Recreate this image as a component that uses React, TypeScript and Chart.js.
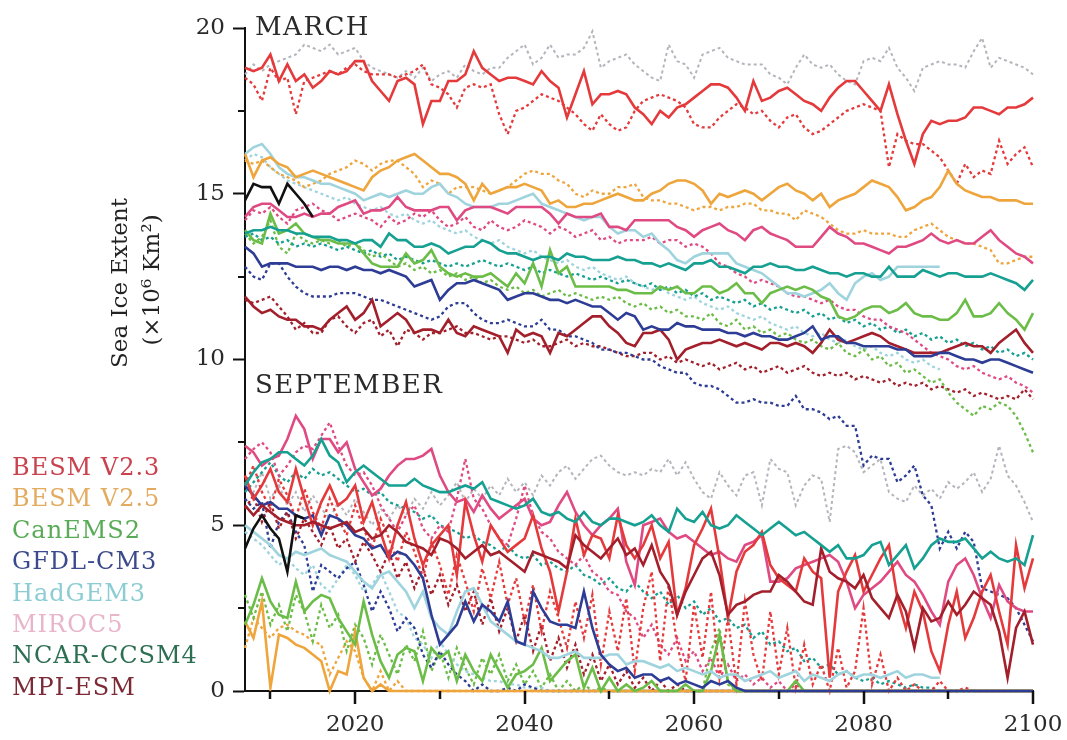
import React, { useEffect, useRef } from 'react';
import { Chart, registerables } from 'chart.js';
Chart.register(...registerables);

// ---------- data ----------
const years = Array.from({ length: 94 }, (_, i) => 2007 + i); // 2007..2100
const xTickAll = [2010, 2020, 2030, 2040, 2050, 2060, 2070, 2080, 2090, 2100];
const xTickMajor = [2020, 2040, 2060, 2080, 2100];
const yTickMinor = [2.5, 7.5, 12.5, 17.5];
const modelNames = ['BESM V2.3', 'BESM V2.5', 'CanEMS2', 'GFDL-CM3', 'HadGEM3', 'MIROC5', 'NCAR-CCSM4', 'MPI-ESM'];

// March
const marObs = [14.8, 15.3, 15.2, 15.2, 14.7, 15.3, 15.0, 14.7, 14.3];
const marBesm23Solid = [18.8,18.7,18.8,19.2,18.4,18.9,18.4,18.6,18.2,18.4,
18.7,18.6,18.7,19.0,19.0,18.4,18.1,17.8,18.4,18.5,
18.3,17.1,17.8,17.8,18.4,18.4,18.6,19.3,18.8,18.6,
18.4,18.5,18.5,18.4,18.3,18.7,18.4,18.2,17.3,18.0,
18.7,17.7,18.0,18.0,18.1,18.0,17.6,17.4,17.1,17.5,
17.3,17.6,17.7,17.9,18.1,18.3,18.3,18.2,17.9,17.5,
18.4,17.8,17.9,18.1,18.2,18.0,17.8,17.7,17.5,17.9,
18.2,18.4,18.4,18.1,17.8,17.5,18.3,17.4,16.6,15.9,
16.8,17.2,17.1,17.2,17.2,17.3,17.6,17.6,17.5,17.4,
17.6,17.6,17.7,17.9];
const marBesm23Dot = [18.5,18.3,17.8,18.8,18.4,18.5,17.4,18.4,18.5,18.6,
18.7,18.6,18.8,18.9,18.7,18.6,18.6,18.6,18.5,18.6,
18.7,18.9,18.3,18.2,18.0,17.6,18.2,18.3,18.2,18.3,
17.4,16.8,17.5,17.6,17.8,18.0,17.9,17.8,17.6,17.4,
17.1,16.9,17.4,17.1,16.9,17.0,17.5,17.8,17.9,18.0,
17.9,17.8,17.6,17.1,17.0,17.0,17.3,17.5,17.7,17.6,
17.4,17.5,17.2,17.0,17.3,17.4,17.0,16.8,16.9,17.1,
17.3,17.5,17.6,17.7,17.6,17.5,15.8,16.8,16.6,16.5,
16.5,16.3,16.1,15.7,15.3,15.9,15.5,15.7,15.6,16.6,
15.9,16.2,16.4,15.8];
const marGreyDot = [18.6,18.9,18.7,18.9,19.0,19.1,19.2,19.5,19.4,19.3,
19.5,19.2,19.3,19.4,19.0,18.8,18.7,18.6,18.5,18.7,
18.5,18.8,18.4,18.6,18.7,18.5,18.9,18.7,18.6,18.8,
18.8,19.1,19.3,19.5,18.9,19.1,19.5,19.1,19.2,19.2,
19.4,19.9,18.8,19.0,19.1,19.2,18.9,18.7,18.5,18.4,
19.5,19.0,18.9,18.5,19.2,19.3,19.4,19.1,19.0,18.9,
18.9,18.9,18.6,18.5,18.3,18.8,19.2,18.9,18.8,18.9,
18.6,18.4,18.3,19.0,19.1,19.0,19.4,18.8,18.5,18.1,
18.8,18.9,19.0,18.9,18.9,18.8,19.3,19.7,18.8,19.1,
19.0,18.9,18.8,18.6];
const marBesm25Solid = [16.2,15.5,16.0,16.1,15.9,15.8,15.5,15.6,15.7,15.6,
15.5,15.4,15.3,15.2,15.1,15.5,15.7,15.8,16.0,16.1,
16.2,16.0,15.8,15.6,15.6,15.5,15.3,14.8,15.3,15.0,
15.1,15.2,15.2,15.3,15.2,15.1,14.7,14.8,14.6,14.6,
14.7,14.7,14.8,14.9,15.0,14.9,14.8,14.8,15.0,15.1,
15.3,15.4,15.4,15.3,15.1,14.7,15.0,14.9,15.0,15.1,
15.0,14.8,15.0,15.2,15.3,15.1,15.0,14.8,15.0,14.6,
14.8,14.9,15.0,15.2,15.4,15.3,15.2,14.9,14.5,14.6,
14.8,14.9,15.2,15.7,15.3,15.1,15.0,14.9,14.9,14.8,
14.8,14.8,14.7,14.7];
const marBesm25Dot = [16.0,15.9,16.0,15.8,15.6,15.5,15.4,15.2,15.3,15.4,
15.6,15.7,15.8,16.0,15.9,15.7,15.9,16.0,16.0,15.8,
15.6,15.2,15.4,15.3,15.0,15.2,15.2,15.2,15.1,15.0,
15.1,15.2,15.4,15.6,15.7,15.6,15.6,15.4,15.3,15.0,
14.9,15.1,15.0,15.0,15.2,15.2,15.3,14.9,14.8,14.8,
14.7,14.7,14.6,14.5,14.6,14.6,14.5,14.6,14.6,14.7,
14.7,14.5,14.5,14.4,14.4,14.2,14.5,14.4,14.3,14.1,
13.9,13.8,13.8,13.9,13.8,13.8,13.8,13.7,13.7,13.9,
14.0,14.1,13.9,13.7,13.6,13.5,13.5,13.4,13.3,12.9,
12.9,13.0,13.1,13.1];
const marCanSolid = [13.9,13.6,13.5,14.4,13.8,13.9,14.1,13.8,13.7,13.6,
13.6,13.5,13.5,13.5,13.2,12.9,12.8,12.8,12.8,13.2,
12.9,13.0,13.3,12.8,12.6,12.5,12.6,12.5,12.5,12.6,
12.4,12.2,12.6,12.3,12.9,12.2,13.3,12.6,12.8,12.2,
12.2,12.2,12.2,12.2,12.1,12.1,12.0,12.0,12.0,12.2,
12.1,12.2,12.0,12.0,12.2,12.2,12.0,12.1,12.3,12.0,
12.0,11.7,12.0,12.1,12.2,12.1,12.2,12.1,11.9,11.8,
11.3,11.2,11.3,11.5,11.6,11.6,11.4,11.5,11.7,11.4,
11.3,11.3,11.2,11.2,11.4,11.8,11.3,11.3,11.4,11.7,
11.4,11.2,10.9,11.4];
const marCanDot = [13.8,13.5,13.7,14.2,13.4,13.2,13.8,13.6,13.5,13.6,
13.5,13.6,13.4,13.5,13.3,13.1,13.2,13.0,12.8,12.9,
12.7,12.8,12.6,12.7,12.5,12.6,12.4,12.5,12.3,12.4,
12.2,12.1,12.2,12.0,12.1,11.9,12.0,12.1,11.9,12.0,
11.9,11.8,11.9,11.8,11.9,11.7,11.6,11.7,11.5,11.6,
11.4,11.5,11.3,11.3,11.2,11.4,11.1,11.0,11.2,10.9,
11.0,10.8,10.9,10.7,10.8,10.6,10.5,10.6,10.4,10.3,
10.5,10.2,10.1,10.3,10.0,10.1,9.8,9.9,9.6,9.7,
9.5,9.3,9.4,9.0,8.7,8.5,8.3,8.6,8.5,8.7,
8.6,8.3,7.8,7.2];
const marGfdlSolid = [13.4,13.2,12.8,12.9,12.9,12.9,12.8,12.8,12.8,12.7,
12.8,12.8,12.7,12.8,12.7,12.7,12.6,12.7,12.6,12.5,
12.2,12.3,12.4,11.8,12.1,12.3,12.3,12.4,12.3,12.2,
12.1,11.8,11.9,12.0,12.0,11.9,11.8,11.8,11.7,11.8,
11.7,11.6,11.6,11.4,11.2,11.4,11.3,10.9,11.0,10.9,
10.9,11.1,11.0,11.0,10.9,10.9,10.9,10.8,10.8,10.7,
10.8,10.7,10.7,10.6,10.6,10.7,10.8,11.0,10.6,10.7,
10.7,10.5,10.5,10.4,10.4,10.4,10.4,10.3,10.3,10.1,
10.1,10.1,10.2,10.2,10.1,10.0,10.0,9.9,10.0,10.0,
9.9,9.8,9.7,9.6];
const marGfdlDot = [12.8,12.5,12.4,12.9,12.9,12.5,12.2,12.0,11.9,11.9,
11.9,12.0,12.0,12.0,11.9,11.8,11.8,11.7,11.6,11.5,
11.4,11.3,11.2,11.3,11.6,11.7,11.7,11.4,11.2,11.1,
11.1,11.2,11.1,11.0,11.0,11.2,10.9,10.9,10.7,10.7,
10.6,10.5,10.3,10.3,10.2,10.2,10.1,10.0,10.0,9.8,
9.7,9.6,9.6,9.3,9.2,9.2,9.1,8.9,8.7,8.7,
8.8,8.7,8.7,8.6,8.6,8.9,8.5,8.5,8.4,8.2,
8.3,8.0,8.0,6.8,7.1,7.0,7.0,6.3,6.5,6.8,
5.9,5.6,4.3,4.8,4.3,4.8,4.5,3.1,3.0,2.9,
2.8,2.5,2.0,1.5];
const marHadSolid = [16.2,16.4,16.5,16.2,15.8,15.6,15.5,15.5,15.4,15.3,
15.3,15.2,15.1,15.0,14.8,14.9,15.0,14.9,15.0,15.1,
15.0,15.0,15.2,15.3,15.0,14.9,14.7,14.6,14.6,14.6,
14.7,14.7,14.8,14.9,15.0,14.7,14.6,14.5,14.4,14.3,
14.2,14.3,14.3,14.0,13.8,13.9,13.9,13.7,13.8,13.5,
13.3,13.0,12.9,13.1,13.2,13.2,13.2,13.2,12.9,12.8,
12.7,12.6,12.4,12.2,12.0,12.0,11.9,12.0,12.1,12.3,
12.0,11.8,12.3,12.5,12.6,12.4,12.5,12.8,12.8,12.8,
12.8,12.8,12.8];
const marHadDot = [16.0,16.2,16.1,15.8,15.6,15.4,15.3,15.2,15.1,15.0,
14.9,14.8,14.9,14.7,14.6,14.5,14.6,14.4,14.3,14.4,
14.2,14.1,14.2,14.0,13.9,13.8,13.9,13.7,13.6,13.5,
13.6,13.4,13.3,13.2,13.3,13.1,13.0,12.9,13.0,12.8,
12.7,12.8,12.6,12.5,12.4,12.5,12.3,12.2,12.1,12.2,
12.0,11.9,11.8,11.9,11.7,11.6,11.5,11.6,11.4,11.3,
11.2,11.3,11.1,11.0,10.9,11.0,10.8,10.7,10.8,10.6,
10.5,10.6,10.4,10.3,10.4,10.2,10.1,10.2,10.0,9.9,
10.0,9.8,9.7];
const marMirocSolid = [14.3,14.6,14.7,14.7,14.5,14.3,14.3,14.4,14.3,14.4,
14.4,14.6,14.7,14.8,14.4,14.5,14.5,14.6,14.9,14.6,
14.5,14.5,14.5,14.6,14.6,14.2,14.5,14.6,14.6,14.6,
14.5,14.4,14.6,14.6,14.6,14.6,14.4,14.1,14.4,14.3,
14.3,14.3,14.4,14.0,14.0,13.9,14.2,14.2,14.2,14.2,
14.2,14.0,13.9,13.7,13.9,14.0,14.1,13.9,13.8,13.6,
13.9,14.0,13.8,13.7,13.6,13.4,13.4,13.4,13.7,14.0,
13.8,13.7,13.5,13.5,13.4,13.3,13.2,13.4,13.4,13.5,
13.6,13.8,13.6,13.5,13.6,13.5,13.5,13.7,13.9,13.6,
13.4,13.2,13.1,12.9];
const marMirocDot = [14.2,14.5,14.4,14.6,14.3,14.1,14.5,14.6,14.7,14.5,
14.4,14.2,14.3,14.4,14.3,14.2,14.0,14.3,14.1,14.2,
14.4,14.3,14.5,14.2,14.0,14.1,14.3,14.0,13.9,14.2,
14.0,13.9,14.0,14.2,14.1,14.0,13.8,14.0,13.9,13.7,
13.8,13.9,13.6,13.7,13.5,13.6,13.6,13.6,13.7,13.5,
13.6,13.6,13.4,13.5,13.4,13.2,12.9,12.8,12.6,12.5,
12.3,12.4,12.3,12.2,12.0,11.9,11.9,11.8,11.7,11.8,
11.6,11.5,11.5,11.3,11.2,11.2,11.0,10.9,10.8,10.6,
10.4,10.2,10.1,10.0,9.8,9.7,9.8,9.6,9.5,9.4,
9.5,9.3,9.2,9.0];
const marNcarSolid = [13.8,13.9,13.9,14.0,13.9,13.9,13.8,13.8,13.7,13.7,
13.7,13.6,13.6,13.5,13.6,13.6,13.4,13.8,13.6,13.6,
13.4,13.4,13.5,13.4,13.2,13.3,13.4,13.4,13.6,13.5,
13.3,13.2,13.2,13.1,13.0,13.1,13.1,13.0,13.2,13.1,
13.1,13.0,13.0,13.0,13.1,13.0,13.0,12.9,12.9,12.8,
12.9,12.8,12.7,12.9,12.9,13.0,12.8,12.8,12.7,12.6,
12.8,12.8,12.9,12.8,12.8,12.7,12.7,12.8,12.7,12.6,
12.6,12.5,12.6,12.6,12.5,12.5,12.8,12.5,12.5,12.5,
12.7,12.6,12.5,12.6,12.6,12.5,12.5,12.5,12.6,12.5,
12.4,12.3,12.1,12.4];
const marNcarDot = [13.7,13.8,13.6,13.7,13.5,13.6,13.4,13.5,13.4,13.5,
13.4,13.3,13.4,13.3,13.2,13.3,13.1,13.2,13.0,13.1,
13.0,12.9,13.0,12.9,12.8,12.9,12.8,12.9,13.0,12.9,
12.8,12.9,12.8,12.7,12.8,12.6,12.7,12.6,12.5,12.6,
12.5,12.4,12.5,12.4,12.3,12.4,12.3,12.2,12.3,12.1,
12.2,12.0,12.1,11.9,12.0,11.8,11.9,11.8,11.7,11.8,
11.6,11.7,11.5,11.6,11.5,11.4,11.5,11.3,11.4,11.2,
11.3,11.1,11.2,11.0,11.1,10.9,11.0,10.8,10.9,10.7,
10.8,10.6,10.7,10.5,10.6,10.4,10.5,10.3,10.4,10.2,
10.3,10.1,10.2,10.0];
const marMpiSolid = [11.9,11.6,11.4,11.5,11.3,11.2,11.2,11.0,11.0,10.9,
11.2,11.4,11.6,11.2,11.4,11.8,11.0,11.2,11.4,11.2,
10.8,10.9,10.9,10.8,11.2,10.8,10.7,11.0,10.9,10.8,
10.7,10.2,10.9,10.7,10.8,10.7,10.2,10.8,10.7,10.9,
11.1,11.3,11.3,11.0,10.8,10.5,10.4,10.8,10.8,10.9,
10.6,10.0,10.3,10.4,10.5,10.5,10.6,10.5,10.4,10.5,
10.4,10.3,10.5,10.5,10.4,10.5,10.4,10.2,10.5,10.9,
10.6,10.5,10.6,10.7,10.8,10.7,10.5,10.4,10.3,10.2,
10.2,10.2,10.2,10.3,10.4,10.5,10.4,10.4,10.2,10.5,
10.7,10.9,10.5,10.2];
const marMpiDot = [11.8,11.7,11.8,11.9,11.6,11.3,10.9,11.1,10.8,10.8,
11.2,11.3,11.0,10.8,11.1,11.2,10.7,10.9,10.4,10.9,
10.8,10.6,10.8,10.8,10.9,11.0,10.8,10.8,10.7,10.6,
10.7,10.7,10.6,10.5,10.6,10.4,10.4,10.5,10.6,10.4,
10.5,10.4,10.4,10.3,10.2,10.1,10.1,10.2,10.2,10.0,
10.1,9.9,10.0,9.9,9.8,9.9,9.7,9.8,9.9,9.7,
9.8,9.6,9.7,9.8,9.6,9.7,9.8,9.6,9.5,9.6,
9.5,9.6,9.4,9.5,9.4,9.3,9.4,9.2,9.3,9.2,
9.3,9.1,9.2,9.1,9.0,9.1,8.9,9.0,8.9,8.8,
8.9,8.8,9.1,8.8];

// September
const sepObs = [4.3, 4.9, 5.3, 4.9, 4.6, 3.6, 5.3, 5.2];
const sepBesm23Solid = [6.5,5.8,6.2,6.7,6.0,5.7,6.7,5.8,5.0,5.7,
6.2,5.6,5.8,6.2,5.1,5.7,4.8,4.0,5.0,5.7,
4.6,3.8,4.4,4.7,5.0,3.5,5.7,4.7,3.9,5.0,
4.6,4.2,4.4,4.6,5.3,4.3,3.6,2.4,3.6,5.2,
4.1,4.7,4.6,4.0,5.3,4.4,4.0,4.4,5.0,4.0,
4.5,2.3,3.1,4.4,4.9,5.5,4.0,2.2,3.6,4.2,
4.4,4.8,3.8,3.4,3.2,3.0,4.0,3.6,3.4,0.4,
3.0,3.6,4.1,3.0,3.5,4.0,4.4,2.8,1.9,3.0,
2.4,1.2,0.6,2.0,3.0,1.6,2.2,3.0,3.5,2.4,
1.4,4.4,3.1,4.0];
const sepBesm23Dot = [6.2,6.8,6.0,5.5,6.4,5.9,5.2,6.1,5.4,4.9,
5.8,5.2,4.7,5.6,4.9,4.3,5.2,4.6,3.9,4.8,
4.2,3.4,4.5,3.8,2.9,4.1,3.3,2.4,3.7,2.8,
3.9,2.6,3.4,2.1,3.2,1.8,3.0,2.2,1.3,2.7,
1.6,2.9,0.8,2.4,1.2,2.8,0.6,2.5,3.6,0.9,
3.2,1.4,0.3,2.6,1.0,3.0,0.4,2.2,0.2,2.7,
1.1,0.3,2.4,0.5,1.9,0.1,1.4,0.2,0.8,0.0,
1.3,0.1,0.6,2.5,0.2,1.1,0.0,0.4,0.0,0.2,
0.0,0.0,0.3,0.0,0.0,0.1,0.0,0.0,0.0,0.0,
0.0,0.0,0.0,0.0];
const sepGreyDot = [6.3,6.0,6.6,5.8,6.2,5.6,6.0,5.4,5.9,5.5,
5.2,5.7,5.3,5.8,5.4,5.0,5.5,5.2,5.6,5.3,
5.8,5.5,6.0,5.6,5.9,6.3,5.7,6.1,5.8,6.2,
5.9,6.4,6.0,6.3,5.9,6.5,6.2,6.6,6.8,6.4,
6.7,7.0,7.1,6.8,6.6,6.5,6.6,6.5,6.7,6.6,
7.0,6.5,6.9,6.4,6.0,5.8,6.6,6.2,5.9,6.5,
6.6,5.6,7.0,6.7,6.6,5.6,6.2,6.5,6.4,5.1,
7.3,7.4,7.2,6.6,6.8,7.0,6.0,5.8,5.7,6.2,
5.9,6.1,5.8,6.3,6.1,6.3,6.6,6.0,6.4,7.4,
6.5,6.2,5.7,5.1];
const sepBesm25Solid = [2.1,1.6,2.7,0.1,1.7,1.6,1.4,1.3,1.1,0.9,
0.0,0.6,0.5,1.8,0.4,0.0,0.2,0.0,0.0,0.0,
0.0,0.0,0.0,0.0,0.0,0.0,0.0,0.0,0.0,0.0,
0.0,0.0,0.0,0.0,0.0,0.0,0.0,0.0,0.0,0.0,
0.0,0.0,0.0,0.0,0.0,0.0,0.0,0.0,0.0,0.0,
0.0,0.0,0.0,0.0,0.0,0.0,0.0,0.0,0.0,0.0,
0.0,0.0,0.0,0.0,0.0,0.0,0.0,0.0,0.0,0.0,
0.0,0.0,0.0,0.0,0.0,0.0,0.0,0.0,0.0,0.0,
0.0,0.0,0.0,0.0,0.0,0.0,0.0,0.0,0.0,0.0,
0.0,0.0,0.0,0.0];
const sepBesm25Dot = [1.3,2.2,1.9,1.6,1.9,2.0,1.8,1.7,1.5,1.4,
0.5,1.0,1.5,1.2,0.4,0.0,0.6,0.0,0.3,0.0,
0.0,0.0,0.0,0.0,0.0,0.0,0.0,0.0,0.0,0.0,
0.0,0.0,0.0,0.0,0.0,0.0,0.0,0.0,0.0,0.0,
0.0,0.0,0.0,0.0,0.0,0.0,0.0,0.0,0.0,0.0,
0.0,0.0,0.0,0.0,0.0,0.0,0.0,0.0,0.0,0.0,
0.0,0.0,0.0,0.0,0.0,0.0,0.0,0.0,0.0,0.0,
0.0,0.0,0.0,0.0,0.0,0.0,0.0,0.0,0.0,0.0,
0.0,0.0,0.0,0.0,0.0,0.0,0.0,0.0,0.0,0.0,
0.0,0.0,0.0,0.0];
const sepCanSolid = [2.0,2.6,3.4,2.7,2.3,2.2,3.3,2.4,2.7,2.9,
2.8,2.2,1.8,1.4,2.7,1.7,0.9,0.4,1.1,1.3,
1.2,0.3,1.3,1.0,1.2,0.3,1.1,0.6,0.3,1.1,
0.6,0.1,0.5,0.6,0.8,1.3,0.3,0.6,0.9,1.1,
0.1,0.7,0.0,0.4,0.0,0.2,0.0,0.1,0.3,0.0,
0.0,0.0,0.2,0.0,0.0,0.6,1.7,0.3,0.0,0.0,
0.0,0.0,0.0,0.0,0.0,0.3,0.0,0.0,0.0,0.0,
0.0,0.0,0.0,0.0,0.0,0.0,0.0,0.0,0.0,0.0,
0.0,0.0,0.0,0.0,0.0,0.0,0.0,0.0,0.0,0.0,
0.0,0.0,0.0,0.0];
const sepCanDot = [2.9,2.2,3.0,2.0,2.6,1.8,2.9,2.4,1.5,2.6,
1.9,2.3,1.2,2.0,1.6,0.8,1.7,1.1,0.5,1.4,
0.9,1.8,0.6,1.2,0.4,1.3,0.7,0.2,1.0,0.5,
1.1,0.3,0.8,0.2,0.6,0.1,0.5,0.0,0.3,0.0,
0.2,0.0,0.1,0.0,0.0,0.0,0.0,0.0,0.0,0.0,
0.0,0.0,0.0,0.0,0.0,1.2,1.9,0.2,0.0,0.0,
0.0,0.0,0.0,0.0,0.0,0.0,0.0,0.0,0.0,0.0,
0.0,0.0,0.0,0.0,0.0,0.0,0.0,0.0,0.0,0.0,
0.0,0.0,0.0,0.0,0.0,0.0,0.0,0.0,0.0,0.0,
0.0,0.0,0.0,0.0];
const sepGfdlSolid = [6.2,5.9,5.6,5.7,5.5,5.5,5.3,5.2,5.3,4.7,
5.3,5.2,5.0,4.7,4.6,4.3,4.4,4.0,4.2,4.1,
3.8,3.4,2.3,1.4,1.7,2.0,2.7,2.1,2.6,2.4,
2.1,2.7,1.5,1.4,3.0,2.5,2.1,2.0,2.0,1.9,
3.0,1.9,1.1,0.8,0.6,0.7,0.4,0.5,0.5,0.3,
0.4,0.2,0.3,0.2,0.1,0.3,0.2,0.3,0.1,0.0,
0.0,0.0,0.0,0.0,0.0,0.0,0.0,0.0,0.0,0.0,
0.0,0.0,0.0,0.0,0.0,0.0,0.0,0.0,0.0,0.0,
0.0,0.0,0.0,0.0,0.0,0.0,0.0,0.0,0.0,0.0,
0.0,0.0,0.0,0.0];
const sepGfdlDot = [5.8,5.5,5.7,4.3,5.1,5.4,4.8,4.4,3.0,3.8,
3.6,3.4,3.7,3.9,3.2,2.4,3.0,2.5,1.8,2.2,
1.9,1.1,0.7,1.2,0.8,0.5,0.3,0.0,0.2,0.0,
0.0,0.1,0.0,0.2,0.1,0.0,0.0,0.0,0.0,0.0,
0.0,0.0,0.0,0.0,0.0,0.0,0.0,0.0,0.0,0.0,
0.0,0.0,0.0,0.0,0.0,0.0,0.0,0.0,0.0,0.0,
0.0,0.0,0.0,0.0,0.0,0.0,0.0,0.0,0.0,0.0,
0.0,0.0,0.0,0.0,0.0,0.0,0.0,0.0,0.0,0.0,
0.0,0.0,0.0,0.0,0.0,0.0,0.0,0.0,0.0,0.0,
0.0,0.0,0.0,0.0];
const sepHadSolid = [5.0,4.8,4.6,4.4,4.1,4.0,4.2,4.1,4.2,4.3,
4.1,4.0,3.9,3.6,3.3,3.1,3.5,3.6,3.3,3.0,
2.5,3.0,2.2,1.9,1.7,2.4,3.0,3.1,2.6,2.1,
1.9,1.7,1.5,1.4,1.3,1.2,1.0,1.0,1.1,1.2,
1.0,1.0,1.0,1.1,1.1,0.8,0.9,0.9,0.8,0.7,
0.8,0.6,0.7,0.6,0.5,0.6,0.4,0.5,0.5,0.3,
0.4,0.5,0.6,0.4,0.5,0.6,0.3,0.5,0.4,0.3,
0.5,0.6,0.4,0.5,0.5,0.4,0.5,0.6,0.4,0.5,
0.5,0.4,0.4];
const sepHadDot = [4.8,4.6,4.4,4.1,3.8,4.0,3.7,3.5,3.8,3.2,
3.0,3.4,3.8,3.5,3.0,3.2,3.6,3.0,2.4,2.2,
1.6,1.4,1.0,1.5,1.1,0.8,0.6,0.5,0.4,0.3,
0.3,0.2,0.2,0.1,0.1,0.1,0.0,0.0,0.0,0.0,
0.0,0.0,0.0,0.0,0.0,0.0,0.0,0.0,0.0,0.0,
0.0,0.0,0.0,0.0,0.0,0.0,0.0,0.0,0.0,0.0,
0.0,0.0,0.0,0.0,0.0,0.0,0.0,0.0,0.0,0.0,
0.0,0.0,0.0,0.0,0.0,0.0,0.0,0.0,0.0,0.0,
0.0,0.0,0.0];
const sepMirocSolid = [7.4,7.2,6.8,7.0,7.1,7.6,8.3,7.9,7.0,7.6,
7.6,7.2,7.5,6.7,6.3,5.9,6.1,6.5,6.8,7.0,
7.0,7.1,7.3,6.5,6.0,5.7,5.8,5.4,5.9,5.5,
5.2,5.4,5.6,5.8,5.2,5.0,5.1,5.6,6.0,5.4,
5.0,4.7,5.0,5.2,5.5,3.9,3.2,5.0,5.1,5.2,
4.8,4.6,4.7,4.5,4.3,4.1,4.2,4.0,3.9,4.4,
4.5,4.7,3.3,3.3,3.4,3.7,3.8,3.9,4.0,4.1,
3.9,3.3,2.5,2.9,3.1,3.3,3.6,3.9,3.5,3.3,
2.9,2.4,2.0,3.3,3.8,4.0,3.5,2.8,2.2,3.2,
2.7,2.5,2.4,2.4];
const sepMirocDot = [7.0,7.3,7.5,7.2,6.5,6.8,7.2,7.4,7.3,7.7,
8.1,7.4,6.8,6.5,6.6,6.2,5.6,5.2,4.8,5.3,
5.6,4.9,4.6,5.0,4.8,5.8,7.0,5.8,5.5,5.0,
4.6,4.4,5.2,6.2,5.3,4.8,4.6,4.2,4.0,3.8,
4.1,3.6,3.4,3.0,2.9,2.4,2.2,1.6,2.0,1.4,
1.1,1.6,0.9,1.2,0.6,1.0,0.4,0.8,0.3,0.5,
0.2,0.4,0.1,0.3,0.0,0.2,0.0,0.0,0.0,0.0,
0.0,0.0,0.0,0.0,0.0,0.0,0.0,0.0,0.0,0.0,
0.0,0.0,0.0,0.0,0.0,0.0,0.0,0.0,0.0,0.0,
0.0,0.0,0.0,0.0];
const sepNcarSolid = [6.2,6.6,6.9,7.0,7.2,7.2,7.0,6.8,7.1,7.6,
7.1,6.9,6.3,6.6,6.8,6.6,6.4,6.2,6.2,6.2,
6.4,6.2,6.1,6.0,6.0,6.1,6.2,6.1,6.3,5.8,
5.7,5.6,5.5,5.6,5.8,5.4,5.3,5.4,5.2,5.1,
5.4,5.1,5.0,5.2,5.2,5.1,5.0,5.1,5.3,5.0,
4.8,5.5,5.2,5.1,5.4,5.0,4.9,5.0,5.3,5.1,
4.9,4.7,4.9,5.1,4.9,4.7,4.8,4.6,4.4,4.2,
4.4,4.0,4.0,4.1,4.4,4.5,3.8,4.1,4.4,3.7,
4.0,4.4,4.6,4.5,4.5,4.6,4.3,4.0,4.2,4.0,
3.9,4.0,3.8,4.7];
const sepNcarDot = [6.0,6.3,6.6,6.9,6.5,6.3,6.6,6.4,6.7,6.5,
6.6,6.4,6.2,6.0,6.1,5.9,6.0,5.7,5.6,5.5,
5.4,5.2,5.3,5.0,4.9,4.8,4.6,4.7,4.5,4.4,
4.2,4.4,4.1,4.0,4.1,3.8,3.9,3.7,3.6,3.8,
3.5,3.4,3.2,3.4,3.1,3.0,3.3,3.0,2.8,3.0,
2.6,2.9,2.5,2.7,2.3,2.5,2.1,2.2,1.9,2.0,
1.6,1.8,1.4,1.5,1.2,1.3,0.9,1.0,0.7,0.8,
0.5,0.6,0.4,0.3,0.4,0.2,0.3,0.2,0.1,0.2,
0.1,0.1,0.0,0.0,0.0,0.0,0.0,0.0,0.0,0.0,
0.0,0.0,0.0,0.0];
const sepMpiSolid = [5.6,5.3,5.6,5.4,5.2,5.1,5.0,5.0,5.1,5.0,
4.9,5.0,5.1,4.8,4.9,4.6,4.7,5.0,4.8,4.5,
4.4,4.3,4.1,4.6,4.5,4.3,4.0,4.2,4.4,4.1,
4.2,4.0,3.8,3.6,4.2,4.1,4.0,3.9,3.7,4.7,
4.4,4.2,4.0,4.3,4.6,4.1,4.3,3.8,4.4,3.6,
3.2,2.3,3.0,3.5,4.0,4.2,3.5,2.3,2.6,2.7,
2.9,3.0,3.0,3.5,3.3,3.0,2.7,2.6,4.3,3.6,
3.4,3.3,3.1,3.5,2.8,2.5,2.2,2.9,2.4,1.3,
2.5,2.1,2.2,2.7,2.3,2.6,3.0,2.8,2.6,1.8,
0.4,1.9,2.4,1.4];
const sepMpiDot = [5.5,5.9,5.1,5.7,4.9,5.4,4.6,5.2,4.8,4.4,
5.0,4.3,4.6,3.9,4.5,4.1,3.6,4.2,3.4,3.9,
3.1,3.7,2.9,3.5,2.6,3.2,2.4,3.0,2.0,2.8,
1.8,2.5,1.5,2.3,1.2,2.0,0.9,1.6,0.7,1.4,
0.5,1.1,0.3,0.8,0.2,0.6,0.1,0.4,0.0,0.3,
0.0,0.2,0.0,0.0,0.0,0.0,0.0,0.0,0.0,0.0,
0.0,0.0,0.0,0.0,0.0,0.0,0.0,0.0,0.0,0.0,
0.0,0.0,0.0,0.0,0.0,0.0,0.0,0.0,0.0,0.0,
0.0,0.0,0.0,0.0,0.0,0.0,0.0,0.0,0.0,0.0,
0.0,0.0,0.0,0.0];

// ---------- styles ----------
const C = {
  besm23: '#e53a3c',
  besm25: '#eea53c',
  can: '#6cbd48',
  gfdl: '#2d3c94',
  had: '#9fd4de',
  miroc: '#e04a82',
  ncar: '#16a092',
  mpi: '#a21f2b',
  obs: '#111111',
  grey: '#b4b4bc',
};
const legendColors = ['#c9434f', '#e3ab5f', '#5aab57', '#3b4a8c', '#8ccdd3', '#e8b5ca', '#2d6f52', '#7c2a36'];
const SERIF = "'DejaVu Serif', 'Liberation Serif', serif";
const AXIS = '#111111';

function pts(vals: (number | null)[]) {
  return vals.map((v, i) => ({ x: years[i], y: v }));
}
function ds(label: string, vals: (number | null)[], color: string, dotted: boolean, width?: number) {
  return {
    label,
    data: pts(vals),
    borderColor: color,
    backgroundColor: color,
    borderWidth: width ?? (dotted ? 2.3 : 2.6),
    borderDash: dotted ? [3, 3] : [],
    pointRadius: 0,
    tension: 0,
    fill: false,
    clip: false as any,
  };
}

const decorPlugin = {
  id: 'decor',
  afterDraw(chart: any) {
    const ctx = chart.ctx as CanvasRenderingContext2D;
    const xs = chart.scales.x;
    const ys = chart.scales.y;
    const left = xs.left;
    const base = ys.getPixelForValue(0);
    ctx.save();
    ctx.setLineDash([]);
    ctx.fillStyle = AXIS;
    // y minor ticks
    yTickMinor.forEach((v) => {
      const py = Math.round(ys.getPixelForValue(v));
      ctx.fillRect(left - 7, py - 1, 7, 2);
    });
    // x ticks (major longer)
    xTickAll.forEach((v) => {
      const px = Math.round(xs.getPixelForValue(v));
      const len = xTickMajor.includes(v) ? 13 : 8;
      ctx.fillRect(px - 1.25, base, 2.5, len);
    });

    // panel labels
    ctx.fillStyle = '#2a2a2a';
    ctx.textAlign = 'left';
    ctx.textBaseline = 'alphabetic';
    ctx.font = `26px ${SERIF}`;
    (ctx as any).letterSpacing = '1.5px';
    ctx.fillText('MARCH', 255, 35);
    ctx.fillText('SEPTEMBER', 255, 393);

    // legend
    ctx.font = `24px ${SERIF}`;
    (ctx as any).letterSpacing = '1px';
    modelNames.forEach((name, i) => {
      ctx.fillStyle = legendColors[i];
      ctx.fillText(name, 12, 475 + i * 31.4);
    });

    // y title
    (ctx as any).letterSpacing = '0px';
    ctx.fillStyle = '#222';
    ctx.font = `23px ${SERIF}`;
    ctx.textAlign = 'center';
    ctx.textBaseline = 'middle';
    ctx.save();
    ctx.translate(121, 283);
    ctx.rotate(-Math.PI / 2);
    ctx.fillText('Sea Ice Extent', 0, 0);
    ctx.restore();
    ctx.save();
    ctx.translate(153, 280);
    ctx.rotate(-Math.PI / 2);
    ctx.fillText('(×10⁶ Km²)', 0, 0);
    ctx.restore();
    ctx.restore();
  },
};

export default function App() {
  const ref = useRef<HTMLCanvasElement>(null);
  useEffect(() => {
    const datasets = [
      ds('Observed March', marObs, C.obs, false, 2.6),
      ds('Observed September', sepObs, C.obs, false, 2.6),
      // solid
      ds('BESM V2.3 Mar', marBesm23Solid, C.besm23, false),
      ds('BESM V2.5 Mar', marBesm25Solid, C.besm25, false),
      ds('MIROC5 Mar', marMirocSolid, C.miroc, false),
      ds('NCAR Mar', marNcarSolid, C.ncar, false),
      ds('CanEMS2 Mar', marCanSolid, C.can, false),
      ds('GFDL Mar', marGfdlSolid, C.gfdl, false),
      ds('MPI Mar', marMpiSolid, C.mpi, false),
      ds('HadGEM3 Mar', marHadSolid, C.had, false),
      ds('NCAR Sep', sepNcarSolid, C.ncar, false),
      ds('MPI Sep', sepMpiSolid, C.mpi, false),
      ds('BESM V2.3 Sep', sepBesm23Solid, C.besm23, false),
      ds('MIROC5 Sep', sepMirocSolid, C.miroc, false),
      ds('GFDL Sep', sepGfdlSolid, C.gfdl, false),
      ds('HadGEM3 Sep', sepHadSolid, C.had, false),
      ds('CanEMS2 Sep', sepCanSolid, C.can, false),
      ds('BESM V2.5 Sep', sepBesm25Solid, C.besm25, false),
      // dotted
      ds('BESM V2.3 Mar d', marBesm23Dot, C.besm23, true),
      ds('BESM V2.5 Mar d', marBesm25Dot, C.besm25, true),
      ds('MIROC5 Mar d', marMirocDot, C.miroc, true),
      ds('NCAR Mar d', marNcarDot, C.ncar, true),
      ds('CanEMS2 Mar d', marCanDot, C.can, true),
      ds('GFDL Mar d', marGfdlDot, C.gfdl, true),
      ds('MPI Mar d', marMpiDot, C.mpi, true),
      ds('HadGEM3 Mar d', marHadDot, C.had, true),
      ds('BESM V2.3 Sep d', sepBesm23Dot, C.besm23, true),
      ds('MIROC5 Sep d', sepMirocDot, C.miroc, true),
      ds('NCAR Sep d', sepNcarDot, C.ncar, true),
      ds('MPI Sep d', sepMpiDot, C.mpi, true),
      ds('GFDL Sep d', sepGfdlDot, C.gfdl, true),
      ds('HadGEM3 Sep d', sepHadDot, C.had, true),
      ds('CanEMS2 Sep d', sepCanDot, C.can, true),
      ds('BESM V2.5 Sep d', sepBesm25Dot, C.besm25, true),
      ds('Grey Mar d', marGreyDot, C.grey, true, 2),
      ds('Grey Sep d', sepGreyDot, C.grey, true, 2),
    ];
    const chart = new Chart(ref.current as HTMLCanvasElement, {
      type: 'line',
      data: { datasets } as any,
      options: {
        responsive: false,
        devicePixelRatio: 1,
        animation: false,
        events: [],
        layout: { padding: { left: 0, top: 28, right: 34, bottom: 0 } },
        plugins: { legend: { display: false }, tooltip: { enabled: false }, title: { display: false } },
        scales: {
          x: {
            type: 'linear',
            min: 2007,
            max: 2100,
            grid: { display: false, drawTicks: false },
            border: { display: true, color: AXIS, width: 2 },
            ticks: {
              stepSize: 20,
              includeBounds: false,
              autoSkip: false,
              maxRotation: 0,
              padding: 20,
              color: '#2a2a2a',
              font: { family: SERIF, size: 23 },
              callback: (v: any) => String(v),
            },
            afterFit: (s: any) => { s.height = 49; s.paddingLeft = 0; s.paddingRight = 0; },
          },
          y: {
            type: 'linear',
            min: 0,
            max: 20,
            grid: { display: true, drawOnChartArea: false, drawTicks: true, tickLength: 12, tickWidth: 2, tickColor: AXIS, color: AXIS },
            border: { display: true, color: AXIS, width: 2 },
            ticks: {
              stepSize: 5,
              padding: 8,
              color: '#2a2a2a',
              font: { family: SERIF, size: 23 },
            },
            afterFit: (s: any) => { s.width = 245; s.paddingTop = 0; s.paddingBottom = 0; },
          },
        },
      } as any,
      plugins: [decorPlugin],
    });
    return () => chart.destroy();
  }, []);
  return (
    <div style={{ position: 'fixed', left: 0, top: 0, width: 1067, height: 740, background: '#fff', overflow: 'hidden' }}>
      <canvas ref={ref} width={1067} height={740} style={{ display: 'block', width: 1067, height: 740 }} />
    </div>
  );
}
